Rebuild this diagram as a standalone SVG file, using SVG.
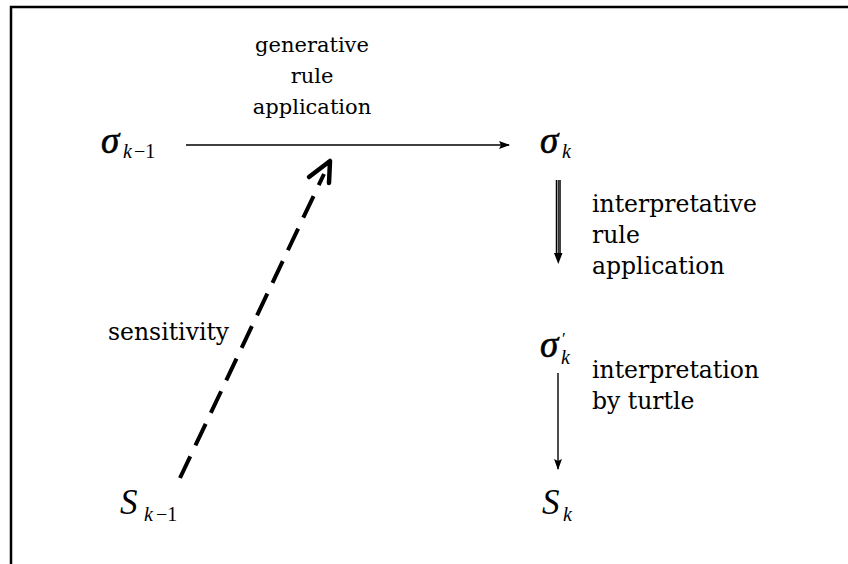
<svg xmlns="http://www.w3.org/2000/svg" width="848" height="564" viewBox="0 0 848 564">
<style>
.t{font-family:"DejaVu Serif","Liberation Serif",serif;font-size:23.5px;fill:#000}
.tt{font-size:21px}
.m{font-family:"Liberation Serif","DejaVu Serif",serif;font-style:italic;fill:#000}
.big{font-size:37px}
.cap{font-size:35px}
.sub{font-size:20px}
.up{font-family:"Liberation Serif","DejaVu Serif",serif;font-size:20px;fill:#000}
.pr{font-family:"Liberation Serif","DejaVu Serif",serif;font-size:17px;fill:#000}
.ln{stroke:#000;fill:none}
</style>
<defs>
<marker id="ah" markerWidth="11" markerHeight="8" refX="10" refY="4" orient="auto" markerUnits="userSpaceOnUse">
<path d="M0,0 L11,4 L0,8 L2,4 Z" fill="#000"/>
</marker>
</defs>
<rect width="848" height="564" fill="#fff"/>
<path class="ln" d="M11,564 V7 H848" stroke-width="2.5"/>
<g id="sigma_km1"><text class="m big" x="101" y="153" stroke="#000" stroke-width="0.6">σ</text><text class="m sub" x="123" y="158">k</text><text class="up" x="134" y="158">−1</text></g>
<g id="sigma_k"><text class="m big" x="540" y="153" stroke="#000" stroke-width="0.6">σ</text><text class="m sub" x="562" y="158">k</text></g>
<g id="sigma_k_prime"><text class="m big" x="540" y="357" stroke="#000" stroke-width="0.6">σ</text><text class="pr" x="562" y="344">′</text><text class="m sub" x="561" y="364">k</text></g>
<g id="S_km1"><text class="m cap" x="120" y="514">S</text><text class="m sub" x="144" y="521">k</text><text class="up" x="156" y="521">−1</text></g>
<g id="S_k"><text class="m cap" x="542" y="514">S</text><text class="m sub" x="563" y="521">k</text></g>
<g id="connectors">
<line class="ln" x1="186" y1="145" x2="509" y2="145" stroke-width="1.6" marker-end="url(#ah)"/>
<line class="ln" x1="556.5" y1="180" x2="556.5" y2="256" stroke-width="1.5"/>
<line class="ln" x1="560" y1="180" x2="560" y2="256" stroke-width="1.5"/>
<line class="ln" x1="558.3" y1="180" x2="558.3" y2="256" stroke="#666" stroke-width="1"/>
<path d="M554,253 L562.5,253 L558.3,264 Z" fill="#000"/>
<line class="ln" x1="558" y1="373" x2="558" y2="469" stroke-width="1.4" marker-end="url(#ah)"/>
<line class="ln" x1="180" y1="478" x2="324" y2="174" stroke-width="4" stroke-dasharray="24,12"/>
<path class="ln" d="M309,177 L330,161 L329,183" stroke-width="4.5" stroke-linecap="round" stroke-linejoin="round"/>
</g>
<g id="labels">
<text class="t tt" text-anchor="middle" x="312" y="52">generative</text>
<text class="t tt" text-anchor="middle" x="312" y="83">rule</text>
<text class="t tt" text-anchor="middle" x="312" y="114">application</text>
<text class="t" x="592" y="212">interpretative</text>
<text class="t" x="592" y="243">rule</text>
<text class="t" x="592" y="274">application</text>
<text class="t" x="592" y="378">interpretation</text>
<text class="t" x="592" y="409">by turtle</text>
<text class="t" x="108" y="340">sensitivity</text>
</g>
</svg>
